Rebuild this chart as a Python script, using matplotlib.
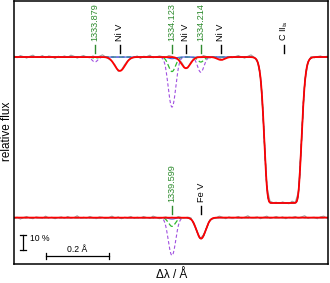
import numpy as np
import matplotlib.pyplot as plt

plt.rcParams['font.family'] = ['Liberation Sans', 'DejaVu Sans']

# offset between the two spectra (relative flux)
offset = 1.1

# line parameters: centre (d lambda / A), optical depth, sigma (A)
red_top = [(-0.165, 0.10, 0.016), (0.044, 0.08, 0.014), (0.155, 0.02, 0.012), (0.351, 35.5, 0.0215)]
purple_top = [(-0.244, 0.035, 0.009), (0.0, 0.42, 0.011), (0.091, 0.11, 0.010), (0.351, 35.5, 0.0215)]
green_top = [(-0.244, 0.008, 0.009), (0.0, 0.105, 0.011), (0.091, 0.035, 0.010), (0.351, 35.5, 0.0215)]
blue_top = [(0.0, 0.012, 0.011), (0.091, 0.004, 0.010), (0.351, 35.5, 0.0215)]

red_bot = [(0.092, 0.155, 0.014)]
purple_bot = [(0.0, 0.30, 0.011), (0.092, 0.155, 0.014)]
green_bot = [(0.0, 0.062, 0.011), (0.092, 0.155, 0.014)]
blue_bot = [(0.0, 0.01, 0.011), (0.092, 0.155, 0.014)]

# observed spectra: deviation from model every 0.01 A (units of 0.0025)
resid_top = [3, -2, 4, 1, -3, 2, 5, -1, 0, 4,
             -2, 3, 1, -4, 2, 0, 3, -1, 5, 2,
             -3, 1, 4, 0, -2, 3, -1, 2, 6, 1,
             -2, 0, 3, -3, 1, 4, 2, -1, 0, 3,
             -4, 2, 1, 5, -2, 0, 3, 1, -1, 4,
             2, -3, 0, 5, 1, -2, 3, 0, 2, -1,
             4, 1, -3, 2, 0, 5, -1, 3, 2, -2,
             1, 4, 0, -3, 2, 6, 1, -1, 3, 0,
             -2, 4, 1, 2, -1, 3, 0, -2, 5, 1,
             2, -1, 3, 0, 4, -2, 1, 3, -1, 2]
resid_bot = [-2, 1, -4, 0, 3, -1, -3, 2, 0, -2,
             4, -1, 1, -3, 0, 2, -2, 3, -1, 0,
             5, -2, 1, -1, 3, 0, -3, 2, 1, -2,
             0, 4, -1, 2, -3, 1, 0, 3, -2, 1,
             -1, 3, 0, -2, 4, 1, -3, 0, 2, -1,
             1, -2, 3, 0, -1, 2, 4, -3, 1, 0,
             3, -1, 2, -2, 0, 4, 1, -3, 2, -1,
             0, 3, -2, 1, 5, -1, 0, 2, -3, 1,
             4, -2, 0, 3, -1, 2, -3, 1, 0, 3,
             -1, 2, 5, -2, 0, 1, -3, 2, 4, -1]

# line identifications
ism_top = [(-0.244, '1333.879'), (0.0, '1334.123'), (0.091, '1334.214')]
phot_top = [(-0.165, 'Ni V'), (0.044, 'Ni V'), (0.155, 'Ni V'), (0.354, r'C II$_\mathrm{is}$')]
ism_bot = [(0.0, '1339.599')]
phot_bot = [(0.092, 'Fe V')]


def model(x, lines):
    tau = np.zeros_like(x)
    for c, t, s in lines:
        tau += t * np.exp(-0.5 * ((x - c) / s) ** 2)
    return np.exp(-tau)


x = np.linspace(-0.5, 0.5, 1200)
xg = np.arange(100) * 0.01 - 0.5

fig = plt.figure(figsize=(3.3, 2.83), dpi=100)
ax = fig.add_axes([14 / 330, 1 - 264 / 283, 314 / 330, 263 / 283])

for sh, red, pur, grn, blu, res in [(0.0, red_top, purple_top, green_top, blue_top, resid_top),
                                     (offset, red_bot, purple_bot, green_bot, blue_bot, resid_bot)]:
    ax.plot(xg, model(xg, red) + np.array(res) * 0.0025 - sh, color='#a0a0a0', lw=0.8)
    ax.plot(x, model(x, pur) - sh, color='#a050e0', lw=0.8, ls=(0, (3, 2)))
    ax.plot(x, model(x, grn) - sh, color='#30b830', lw=0.9, ls=(0, (4, 2)))
    ax.plot(x, model(x, blu) - sh, color='#4060e0', lw=0.8)
    ax.plot(x, model(x, red) - sh, color='red', lw=1.3)

fs = 6.6
for sh, ism, phot in [(0.0, ism_top, phot_top), (offset, ism_bot, phot_bot)]:
    for c, lab in ism:
        ax.plot([c, c], [1.027 - sh, 1.082 - sh], color='#2e8b2e', lw=1.0)
        ax.text(c, 1.11 - sh, lab, rotation=90, ha='center', va='bottom', fontsize=fs, color='#2e8b2e')
    for c, lab in phot:
        ax.plot([c, c], [1.027 - sh, 1.082 - sh], color='black', lw=1.0)
        ax.text(c, 1.11 - sh, lab, rotation=90, ha='center', va='bottom', fontsize=fs, color='black')

# scale bars
ax.plot([-0.4715, -0.4715], [-0.219, -0.319], color='black', lw=0.9)
ax.plot([-0.481, -0.462], [-0.219, -0.219], color='black', lw=0.9)
ax.plot([-0.481, -0.462], [-0.319, -0.319], color='black', lw=0.9)
ax.text(-0.448, -0.24, '10 %', fontsize=6.2, va='center', ha='left')
ax.plot([-0.40, -0.20], [-0.363, -0.363], color='black', lw=0.9)
ax.plot([-0.40, -0.40], [-0.343, -0.383], color='black', lw=0.9)
ax.plot([-0.20, -0.20], [-0.343, -0.383], color='black', lw=0.9)
ax.text(-0.30, -0.35, '0.2 Å', fontsize=6.2, va='bottom', ha='center')

ax.set_xlim(-0.5, 0.4937)
ax.set_ylim(-0.4178, 1.3836)
ax.set_xticks([])
ax.set_yticks([])
for s in ax.spines.values():
    s.set_linewidth(1.1)

fig.text(0.02, 0.535, 'relative flux', rotation=90, ha='center', va='center', fontsize=8.5)
fig.text(0.52, 0.028, 'Δλ / Å', ha='center', va='center', fontsize=8.5)

fig.savefig('out.png', dpi=100)
